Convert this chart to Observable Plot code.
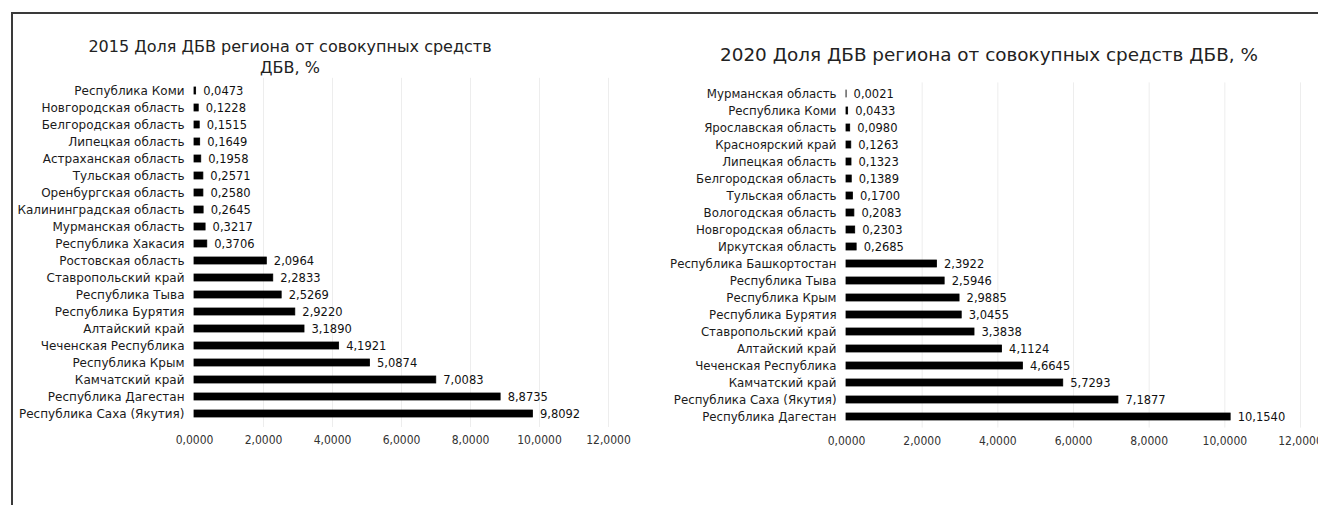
<!DOCTYPE html>
<html>
<head>
<meta charset="utf-8">
<script src="https://cdn.jsdelivr.net/npm/d3@7"></script>
<script src="https://cdn.jsdelivr.net/npm/@observablehq/plot@0.6"></script>
<style>
  html, body { margin: 0; padding: 0; background: #fff; }
  #root { position: relative; width: 1318px; height: 505px; overflow: hidden; font-family: "DejaVu Sans", sans-serif; }
  .frame { position: absolute; left: 11px; top: 12px; right: -5px; bottom: -5px; border-top: 2px solid #3a3a3a; border-left: 2px solid #3a3a3a; }
  .title { position: absolute; text-align: center; color: #222; line-height: 21px; white-space: nowrap; }
  .chart { position: absolute; top: 0; }
  .chart svg g[aria-label="x-axis tick label"] text { font-family: "DejaVu Sans Condensed", "DejaVu Sans", sans-serif; }
</style>
</head>
<body>
<div id="root">
  <div class="frame"></div>
</div>
<script>
const regions2015 = ["Республика Коми","Новгородская область","Белгородская область","Липецкая область","Астраханская область","Тульская область","Оренбургская область","Калининградская область","Мурманская область","Республика Хакасия","Ростовская область","Ставропольский край","Республика Тыва","Республика Бурятия","Алтайский край","Чеченская Республика","Республика Крым","Камчатский край","Республика Дагестан","Республика Саха (Якутия)"];
const values2015 = [0.0473,0.1228,0.1515,0.1649,0.1958,0.2571,0.2580,0.2645,0.3217,0.3706,2.0964,2.2833,2.5269,2.9220,3.1890,4.1921,5.0874,7.0083,8.8735,9.8092];

const regions2020 = ["Мурманская область","Республика Коми","Ярославская область","Красноярский край","Липецкая область","Белгородская область","Тульская область","Вологодская область","Новгородская область","Иркутская область","Республика Башкортостан","Республика Тыва","Республика Крым","Республика Бурятия","Ставропольский край","Алтайский край","Чеченская Республика","Камчатский край","Республика Саха (Якутия)","Республика Дагестан"];
const values2020 = [0.0021,0.0433,0.0980,0.1263,0.1323,0.1389,0.1700,0.2083,0.2303,0.2685,2.3922,2.5946,2.9885,3.0455,3.3838,4.1124,4.6645,5.7293,7.1877,10.1540];

const xTicks = [0,2,4,6,8,10,12];
const title2015 = ["2015 Доля ДБВ региона от совокупных средств", "ДБВ, %"];
const title2020 = ["2020 Доля ДБВ региона от совокупных средств ДБВ, %"];

const fmt = v => d3.format(".4f")(v).replace(".", ",");

function makeChart(regions, values, opts) {
  const data = regions.map((r, i) => ({region: r, value: values[i]}));
  return Plot.plot({
    width: opts.width,
    height: 505,
    marginLeft: opts.marginLeft,
    marginRight: opts.marginRight,
    marginTop: opts.marginTop,
    marginBottom: opts.marginBottom,
    style: {fontFamily: "DejaVu Sans, sans-serif", fontSize: "10px", color: "#222", background: "transparent", overflow: "visible"},
    x: {domain: [0, 12], ticks: xTicks, tickFormat: fmt, label: null},
    y: {domain: regions, label: null, paddingInner: 0.56, paddingOuter: 0.28},
    marks: [
      Plot.ruleX(xTicks.slice(1), {stroke: "#ededed", strokeWidth: 1}),
      Plot.barX(data, {y: "region", x: "value", fill: "#000", stroke: "#000", strokeWidth: 0.8}),
      Plot.text(data, {y: "region", x: "value", text: d => fmt(d.value), textAnchor: "start", dx: 7, fill: "#111", fontSize: 11.5}),
      Plot.axisX({ticks: xTicks, tickFormat: fmt, tickSize: 0, tickPadding: 8, label: null, fontSize: 12, fill: "#333"}),
      Plot.axisY({tickSize: 0, tickPadding: 10, label: null, fontSize: opts.labelSize, fill: "#1a1a1a"})
    ]
  });
}

const root = document.getElementById("root");

function addChart(svg, left) {
  const wrap = document.createElement("div");
  wrap.className = "chart";
  wrap.style.left = left + "px";
  wrap.appendChild(svg);
  root.appendChild(wrap);
}
function addTitle(lines, centerX, top, size) {
  const t = document.createElement("div");
  t.className = "title";
  t.style.top = top + "px";
  t.style.left = (centerX - 400) + "px";
  t.style.width = "800px";
  t.style.fontSize = size + "px";
  t.innerHTML = lines.map(l => `<div>${l}</div>`).join("");
  root.appendChild(t);
}

addChart(makeChart(regions2015, values2015, {width: 650, marginLeft: 194, marginRight: 42, marginTop: 77.8, marginBottom: 78, labelSize: 12}), 0);
addChart(makeChart(regions2020, values2020, {width: 658, marginLeft: 186, marginRight: 18, marginTop: 82.4, marginBottom: 77.4, labelSize: 11.8}), 660);

addTitle(title2015, 290, 36, 16);
addTitle(title2020, 989, 44, 18.4);
</script>
</body>
</html>
